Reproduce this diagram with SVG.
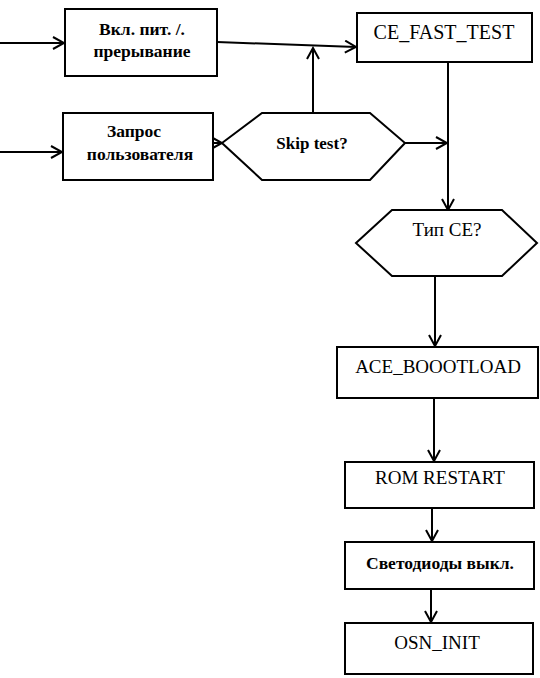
<svg xmlns="http://www.w3.org/2000/svg" width="540" height="678" viewBox="0 0 540 678">
<defs>
<style>
.box{fill:#fff;stroke:#000;stroke-width:2}
.ln{fill:none;stroke:#000;stroke-width:2}
.t{font-family:"Liberation Serif","Times New Roman",serif;fill:#000;text-anchor:middle}
.b{font-weight:bold;font-size:17.5px}
.r{font-size:19px}
</style>
<marker id="arr" markerWidth="14" markerHeight="14" viewBox="0 0 14 14" refX="12" refY="7" markerUnits="userSpaceOnUse" orient="auto">
<path d="M1,1 L12,7 L1,13" fill="none" stroke="#000" stroke-width="2"/>
</marker>
</defs>
<rect width="540" height="678" fill="#fff"/>
<g id="connectors">
<line class="ln" x1="0" y1="43" x2="64" y2="43" marker-end="url(#arr)"/>
<line class="ln" x1="0" y1="152" x2="62" y2="152" marker-end="url(#arr)"/>
<line class="ln" x1="217" y1="42" x2="356" y2="47" marker-end="url(#arr)"/>
<line class="ln" x1="313" y1="113" x2="313" y2="48" marker-end="url(#arr)"/>
<line class="ln" x1="213" y1="143" x2="222" y2="143" marker-end="url(#arr)"/>
<line class="ln" x1="405" y1="143" x2="447" y2="143" marker-end="url(#arr)"/>
<line class="ln" x1="448" y1="62" x2="448" y2="210" marker-end="url(#arr)"/>
<line class="ln" x1="435" y1="276" x2="435" y2="346" marker-end="url(#arr)"/>
<line class="ln" x1="434" y1="398" x2="434" y2="461" marker-end="url(#arr)"/>
<line class="ln" x1="432" y1="508" x2="432" y2="541" marker-end="url(#arr)"/>
<line class="ln" x1="431" y1="589" x2="431" y2="622" marker-end="url(#arr)"/>
</g>
<g id="power">
<rect class="box" x="65" y="9" width="152" height="67"/>
<text class="t b" x="142" y="35">Вкл. пит. /.</text>
<text class="t b" x="142" y="57">прерывание</text>
</g>
<g id="request">
<rect class="box" x="63" y="113" width="150" height="67"/>
<text class="t b" x="134" y="137">Запрос</text>
<text class="t b" x="140" y="160">пользователя</text>
</g>
<g id="skip">
<polygon class="box" points="222,143 262,113 370,113 405,143 370,180 262,180"/>
<text class="t b" x="312" y="149" style="font-size:17px">Skip test?</text>
</g>
<g id="fasttest">
<rect class="box" x="357" y="13" width="175" height="49"/>
<text class="t r" x="444" y="39" style="font-size:20px">CE_FAST_TEST</text>
</g>
<g id="tipce">
<polygon class="box" points="356,243 392,210 502,210 537,243 502,276 392,276"/>
<text class="t r" x="447" y="236">Тип CE?</text>
</g>
<g id="bootload">
<rect class="box" x="337" y="347" width="201" height="51"/>
<text class="t r" x="438" y="373">ACE_BOOOTLOAD</text>
</g>
<g id="romrestart">
<rect class="box" x="345" y="462" width="189" height="46"/>
<text class="t r" x="440" y="484">ROM RESTART</text>
</g>
<g id="leds">
<rect class="box" x="345" y="542" width="189" height="47"/>
<text class="t b" x="440" y="569">Светодиоды выкл.</text>
</g>
<g id="osninit">
<rect class="box" x="345" y="623" width="188" height="51"/>
<text class="t r" x="437" y="649">OSN_INIT</text>
</g>
</svg>
